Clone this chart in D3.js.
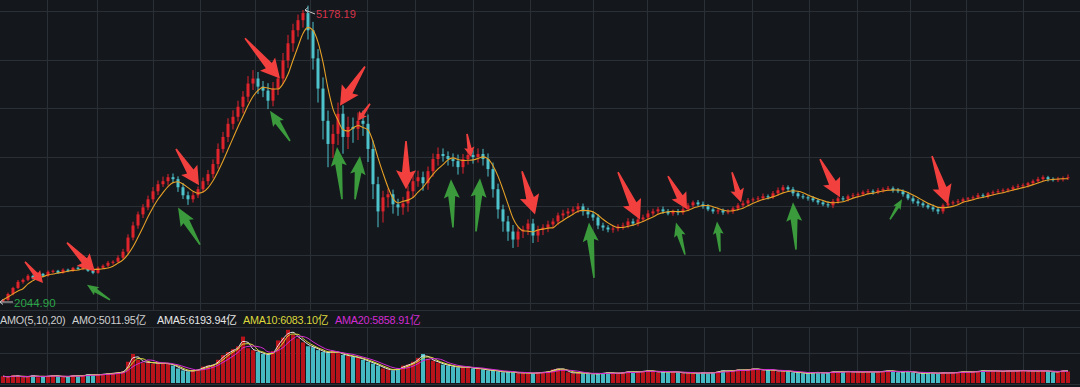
<!DOCTYPE html>
<html><head><meta charset="utf-8">
<script src="https://cdn.jsdelivr.net/npm/d3@7"></script>
<style>html,body{margin:0;padding:0;background:#14171c;overflow:hidden}</style>
</head><body><script>
// daily index, sampled roughly every 4 sessions
const closes=[
2067,2131,2196,2261,2283,2326,2304,2347,2326,2369,
2380,2358,2391,2380,2412,2401,2423,2380,2358,2412,
2434,2466,2477,2520,2585,2736,2866,2985,3060,3147,
3233,3309,3341,3384,3363,3276,3190,3147,3190,3255,
3341,3417,3525,3687,3816,3957,4032,4140,4248,4389,
4443,4356,4313,4205,4335,4443,4637,4821,4961,5069,
5145,4961,4659,4335,3989,3741,3849,4065,3816,3924,
3903,3989,3957,3687,3309,3017,3168,3201,3093,3060,
3103,3233,3341,3384,3319,3449,3579,3633,3611,3579,
3557,3492,3579,3622,3600,3633,3579,3471,3255,3039,
2909,2801,2715,2801,2823,2887,2758,2823,2844,2877,
2909,2974,2995,3017,3039,3071,3017,2985,2952,2866,
2844,2823,2833,2855,2866,2909,2887,2931,2952,2995,
3017,3039,3017,2995,3017,3006,3039,3082,3114,3093,
3071,3039,3017,3028,3006,3017,3049,3082,3103,3136,
3147,3157,3179,3170,3211,3244,3276,3255,3211,3179,
3168,3157,3136,3114,3093,3082,3125,3157,3147,3179,
3190,3201,3222,3233,3222,3244,3255,3265,3244,3233,
3201,3157,3125,3103,3082,3060,3039,3017,3082,3103,
3114,3125,3147,3157,3168,3190,3180,3211,3222,3233,
3244,3255,3276,3287,3298,3319,3341,3363,3384,3363,
3352,3363,3373,3384];
const firstOpen=2050;
const highExt=[
10,15,12,20,15,18,12,20,10,15,
12,10,15,12,10,15,12,10,12,15,
15,20,15,25,30,35,40,30,35,40,
45,40,50,35,40,30,45,40,35,30,
40,45,50,60,55,60,70,65,60,80,
90,70,60,80,70,60,80,90,70,60,
33.19,80,90,100,120,110,100,120,90,110,
100,90,110,100,90,80,70,60,50,60,
70,60,80,70,60,50,60,70,60,50,
60,70,55,60,50,60,55,60,70,60,
50,60,70,50,40,45,50,40,35,40,
35,30,40,35,30,35,30,40,30,35,
30,25,30,25,30,35,30,25,30,35,
30,25,30,25,20,25,30,25,20,25,
30,25,20,25,20,25,20,25,30,25,
20,25,30,20,25,30,25,20,25,20,
25,20,25,20,25,30,25,20,25,20,
25,20,20,25,20,25,20,25,20,25,
20,25,30,25,20,25,30,25,20,25,
20,25,20,15,20,25,20,15,20,25,
20,15,20,25,20,15,20,25,20,15,
20,25,20,30];
const lowExt=[
5.1,10,15,12,20,15,18,12,15,10,
15,12,10,15,12,10,15,12,15,10,
12,15,20,15,20,25,30,35,40,30,
35,40,30,45,40,50,40,60,35,30,
35,40,45,50,40,55,60,50,70,60,
70,80,70,90,60,70,60,80,90,70,
80,100,120,150,200,250,150,120,180,130,
150,120,130,140,160,170,120,110,100,90,
80,90,70,60,80,70,60,70,60,70,
60,80,70,60,70,60,70,80,90,100,
110,100,90,80,70,60,80,70,60,50,
45,40,45,40,35,40,45,40,35,40,
35,30,35,30,35,30,25,30,25,30,
25,30,25,20,25,30,25,20,25,20,
25,20,25,30,25,20,25,20,25,20,
20,25,20,25,20,25,20,25,30,25,
20,25,20,25,20,25,30,25,20,25,
20,25,20,20,25,20,25,20,25,20,
25,20,25,30,25,20,25,30,25,20,
20,25,20,25,20,15,20,25,20,15,
20,25,20,15,20,25,20,15,20,25,
15,20,25,20];
// turnover, 亿
const volumes=[
1680,1440,1920,1680,1440,1680,1920,1440,1680,1680,
1920,1680,1440,1680,1920,1680,1920,2160,1920,2160,
2160,2400,2400,2640,2880,5280,7200,5760,5040,5280,
4800,5040,4800,4800,4320,3600,3120,2880,3120,3360,
4080,4320,4560,5760,6960,7680,8400,9120,11520,8640,
8160,7680,7200,6960,7920,10560,11280,13200,12000,11040,
10080,9120,8880,8160,7680,7440,7920,7440,6960,6720,
6480,6240,5760,5280,4800,4320,3600,3360,3120,3600,
4320,4560,5280,6240,7200,6000,5520,5040,4560,4320,
4080,3840,4080,3840,3600,3600,3360,3120,3120,2880,
2640,2880,2640,2400,2640,2400,2400,2640,2640,2880,
3360,3600,3360,2640,2400,2640,2400,2400,2160,2400,
2400,2640,2400,2400,2640,2880,2640,2880,2880,3120,
2880,2640,2880,2640,2880,2640,2400,2640,2400,2400,
2640,2400,2640,2880,3120,2880,3120,3360,3120,3360,
3600,3360,3120,3360,3120,2880,3120,2880,2640,2640,
2400,2400,2640,2640,2400,2640,2880,2640,2880,2880,
2640,2880,2640,2880,2640,2880,2880,3120,2880,2640,
2880,2880,2640,2400,2400,2640,2400,2400,2640,2400,
2640,2640,2880,2640,2880,2880,3120,2880,3120,2880,
2880,3120,2880,3120,3120,2880,3120,2880,3120,2880,
2640,2880,3120,2880];
// grid boundaries, in candle positions
const gridIdx=[8.8,18.8,30,39.4,50.4,61.4,72.8,82.4,94,105.4,118,128.8,140.2,149.8,161.2,170.8,181.4,192.6,204];
const peak={i:60,v:5178.19,label:"5178.19"};
const trough={i:0,v:2044.90,label:"2044.90"};
const amoLabels=[
  {t:"AMO(5,10,20)",x:0,c:"#cfcfcf"},
  {t:"AMO:5011.95亿",x:72,c:"#cfcfcf"},
  {t:"AMA5:6193.94亿",x:157,c:"#e6e6e6"},
  {t:"AMA10:6083.10亿",x:243,c:"#dcd83c"},
  {t:"AMA20:5858.91亿",x:335,c:"#d22cd2"}];
// annotation arrows: [tail index, tail price, tip index, tip price]
const redArrows=[
[4.4,2477,8.0,2250],[12.8,2682,18.4,2369],[34.6,3687,39.2,3298],[48.4,4875,55.4,4443],
[72.4,4572,67.4,4151],[73.4,4173,71,3989],[80.6,3773,80.6,3255],[92.8,3849,93.6,3600],
[103.8,3449,106.4,2985],[123,3438,127.4,2931],[133,3395,136.8,3039],[145.8,3438,147.6,3114],
[163.4,3579,167.4,3168],[185.8,3611,189,3093]];
const greenArrows=[
[21.4,2067,16.8,2229],[39.4,2661,35,3060],[57.4,3773,53.4,4097],[67.8,3147,66.8,3708],
[70.4,3147,71.4,3611],[90,2844,89.6,3363],[94.6,2801,95.4,3373],[118.2,2304,117.2,2898],
[136.4,2553,134.6,2898],[143.4,2585,142.8,2909],[158.6,2607,158,3114],[177.4,2931,179.8,3147]];

const W=1080,H=387;
const UP="#e0242c",DOWN="#4fc3cc";
const svg=d3.select("body").append("svg").attr("width",W).attr("height",H);
svg.append("rect").attr("width",W).attr("height",H).attr("fill","#14171c");

const N=closes.length;
const x=d3.scaleLinear().domain([0,N-1]).range([3,1068]);
const y=d3.scaleLinear().domain([trough.v,peak.v]).range([302,10]);
const yv=d3.scaleLinear().domain([0,13400]).range([383,329]);

const candles=closes.map((c,i)=>{
  const o=i?closes[i-1]:firstOpen;
  return {i,o,c,h:Math.max(o,c)+highExt[i],l:Math.min(o,c)-lowExt[i],up:c>=o,v:volumes[i]};
});

// grid
const grid=svg.append("g").attr("stroke","#2a2e35").attr("stroke-width",1);
d3.range(7).forEach(k=>{const yy=Math.round(11+k*48.7)+0.5;grid.append("line").attr("x1",0).attr("x2",W).attr("y1",yy).attr("y2",yy);});
[327.5,353.5].forEach(yy=>grid.append("line").attr("x1",0).attr("x2",W).attr("y1",yy).attr("y2",yy));
gridIdx.forEach(g=>{const xx=Math.round(x(g))+0.5;
  grid.append("line").attr("x1",xx).attr("x2",xx).attr("y1",0).attr("y2",310);
  grid.append("line").attr("x1",xx).attr("x2",xx).attr("y1",327).attr("y2",384);});
svg.append("line").attr("x1",0).attr("x2",W).attr("y1",310.5).attr("y2",310.5).attr("stroke","#2a2e35");
svg.append("line").attr("x1",0).attr("x2",W).attr("y1",384.5).attr("y2",384.5).attr("stroke","#2a2e35");

// candles
const cg=svg.append("g");
cg.selectAll("line").data(candles).enter().append("line")
  .attr("x1",d=>x(d.i)).attr("x2",d=>x(d.i))
  .attr("y1",d=>y(d.h)).attr("y2",d=>y(d.l))
  .attr("stroke",d=>d.up?UP:DOWN).attr("stroke-width",1);
cg.selectAll("rect").data(candles).enter().append("rect")
  .attr("x",d=>x(d.i)-1.5).attr("width",3)
  .attr("y",d=>y(Math.max(d.o,d.c)))
  .attr("height",d=>Math.max(1,Math.abs(y(d.o)-y(d.c))))
  .attr("fill",d=>d.up?UP:DOWN);

function ma(arr,n){return arr.map((d,i)=>d3.mean(arr.slice(Math.max(0,i-n+1),i+1)));}

const priceMA=ma(closes,5);
svg.append("path").datum(priceMA)
  .attr("d",d3.line().x((d,i)=>x(i)).y(d=>y(d)).curve(d3.curveMonotoneX))
  .attr("fill","none").attr("stroke","#e6a026").attr("stroke-width",1.1);

// peak / trough labels
const px=x(peak.i),py=y(peak.v);
svg.append("path").attr("d",`M${px+12},${py+4}L${px+2},${py}M${px+2},${py}l3,-2.5M${px+2},${py}l3,2.5`)
  .attr("stroke","#c8c8c8").attr("fill","none").attr("stroke-width",1);
svg.append("text").attr("x",px+13).attr("y",py+8).text(peak.label)
  .attr("fill","#d8344a").attr("font-size",11).attr("font-family","Liberation Sans, Arial, sans-serif");
const tx=x(trough.i),ty=y(trough.v);
svg.append("path").attr("d",`M${tx+10},${ty}L${tx-3},${ty}M${tx-3},${ty}l3,-2.5M${tx-3},${ty}l3,2.5`)
  .attr("stroke","#c8c8c8").attr("fill","none").attr("stroke-width",1);
svg.append("text").attr("x",tx+11).attr("y",ty+5).text(trough.label)
  .attr("fill","#2aa548").attr("font-size",11.5).attr("font-family","Liberation Sans, Arial, sans-serif");

// arrows
function arrowPath(a,big){
  const x0=x(a[0]),y0=y(a[1]),x1=x(a[2]),y1=y(a[3]);
  const L=Math.hypot(x1-x0,y1-y0),ang=Math.atan2(y1-y0,x1-x0)*180/Math.PI;
  const s=Math.min(1,L/45);
  const hl=17*s,hw=(big?10:8)*s,sw=(big?4:3.5)*s;
  const pts=[[L,0],[L-hl-2*s,hw],[L-hl,sw],[0,0.8],[0,-0.8],[L-hl,-sw],[L-hl-2*s,-hw]];
  return {d:"M"+pts.map(p=>p.join(",")).join("L")+"Z",t:`translate(${x0},${y0}) rotate(${ang})`};
}
svg.append("g").selectAll("path").data(redArrows).enter().append("path")
  .each(function(a){const p=arrowPath(a,true);d3.select(this).attr("d",p.d).attr("transform",p.t);})
  .attr("fill","#f2403f");
svg.append("g").selectAll("path").data(greenArrows).enter().append("path")
  .each(function(a){const p=arrowPath(a,false);d3.select(this).attr("d",p.d).attr("transform",p.t);})
  .attr("fill","#3a9a3c");

// volume pane
const vg=svg.append("g");
vg.selectAll("rect").data(candles).enter().append("rect")
  .attr("x",d=>x(d.i)-2).attr("width",4)
  .attr("y",d=>yv(d.v)).attr("height",d=>yv(0)-yv(d.v))
  .attr("fill",d=>d.up?"#b8121b":"#45b9c2");
[[2,"#e8e8e8"],[3,"#dcd83c"],[5,"#d22cd2"]].forEach(([n,c])=>{
  svg.append("path").datum(ma(volumes,n))
    .attr("d",d3.line().x((d,i)=>x(i)).y(d=>yv(d)).curve(d3.curveMonotoneX))
    .attr("fill","none").attr("stroke",c).attr("stroke-width",1);
});

svg.append("g").selectAll("text").data(amoLabels).enter().append("text")
  .attr("x",d=>d.x).attr("y",324).text(d=>d.t).attr("fill",d=>d.c)
  .attr("font-size",10.8).attr("letter-spacing",-0.2)
  .attr("font-family","Liberation Sans, Arial, 'Noto Sans CJK SC', sans-serif");
</script></body></html>
